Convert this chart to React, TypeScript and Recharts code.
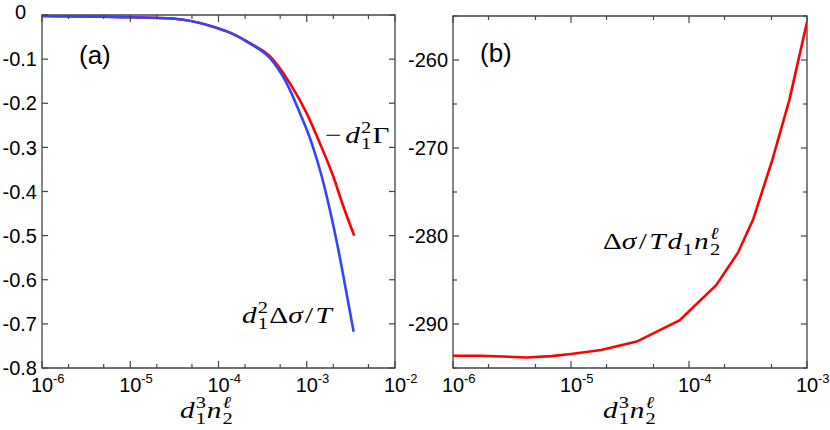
import { LineChart, Line, XAxis, YAxis, ReferenceArea } from "recharts";

// panel (a): -d1^2 Gamma and d1^2 dsigma/T against d1^3 n2
const gammaX = [1e-6, 1e-5, 3e-5, 8.7e-5, 1.35e-4, 2.28e-4, 3.84e-4, 6.45e-4, 1.0e-3, 1.41e-3, 2.0e-3, 2.6e-3, 3.45e-3];
const gammaY = [-0.002, -0.005, -0.008, -0.0265, -0.04, -0.064, -0.094, -0.155, -0.223, -0.291, -0.366, -0.434, -0.5];
const sigmaX = [1e-6, 1e-5, 3e-5, 8.7e-5, 1.35e-4, 2.28e-4, 3.84e-4, 5.93e-4, 8.4e-4, 1.14e-3, 1.48e-3, 1.83e-3, 2.26e-3, 2.78e-3, 3.4e-3];
const sigmaY = [-0.002, -0.005, -0.008, -0.0265, -0.04, -0.065, -0.098, -0.155, -0.223, -0.291, -0.366, -0.442, -0.528, -0.623, -0.718];

// panel (b): dsigma / (T d1 n2)
const ratioX = [1e-6, 1.7e-6, 4.2e-6, 6.8e-6, 1e-5, 1.8e-5, 3.6e-5, 8.3e-5, 1.7e-4, 2.6e-4, 3.5e-4, 5.1e-4, 7.1e-4, 1e-3];
const ratioY = [-293.6, -293.6, -293.8, -293.65, -293.4, -292.95, -292.0, -289.6, -285.6, -281.9, -278.1, -271.3, -264.5, -255.7];

const xTicksA = [1e-6, 2e-6, 5e-6, 1e-5, 2e-5, 5e-5, 1e-4, 2e-4, 5e-4, 1e-3, 2e-3, 5e-3, 1e-2];
const xTicksB = [1e-6, 2e-6, 5e-6, 1e-5, 2e-5, 5e-5, 1e-4, 2e-4, 5e-4, 1e-3];
const yTicksA = [0, -0.1, -0.2, -0.3, -0.4, -0.5, -0.6, -0.7, -0.8];
const yTicksB = [-295, -290, -285, -280, -275, -270, -265, -260, -255];

const zip = (xs: number[], ys: number[]) => xs.map((x, i) => ({ x, y: ys[i] }));
const gammaData = zip(gammaX, gammaY);
const sigmaData = zip(sigmaX, sigmaY);
const ratioData = zip(ratioX, ratioY);

const FRAME = "#444";
const SANS = "'Liberation Sans', Arial, sans-serif";
const SERIF = "'Liberation Serif', 'DejaVu Serif', serif";

const LogTick = (props: any) => {
  const { x, y, payload, plotH } = props;
  const e = Math.log10(payload.value);
  const major = Math.abs(e - Math.round(e)) < 1e-6;
  const len = major ? 7 : 4;
  return (
    <g>
      <line x1={x} x2={x} y1={y} y2={y - len} stroke={FRAME} strokeWidth={1.2} />
      <line x1={x} x2={x} y1={y - plotH} y2={y - plotH + len} stroke={FRAME} strokeWidth={1.2} />
      {major && (
        <text x={x} y={y + 24} fontFamily={SANS} fontSize={20} textAnchor="middle" fill="#000">
          10
        </text>
      )}
      {major && (
        <text x={x + 11} y={y + 15} fontFamily={SANS} fontSize={13} fill="#000">
          {`${Math.round(e)}`}
        </text>
      )}
    </g>
  );
};

const LinTick = (props: any) => {
  const { x, y, payload, plotW, step, digits } = props;
  const v = payload.value;
  const major = Math.abs(v / step - Math.round(v / step)) < 1e-6;
  const len = major ? 6 : 4;
  const zero = v === 0;
  const label = zero ? "0" : v.toFixed(digits);
  return (
    <g>
      <line x1={x} x2={x + len} y1={y} y2={y} stroke={FRAME} strokeWidth={1.2} />
      <line x1={x + plotW} x2={x + plotW - len} y1={y} y2={y} stroke={FRAME} strokeWidth={1.2} />
      {major && (
        <text
          x={zero ? x - 16 : x - 5}
          y={zero ? y - 3 : y}
          dy="0.36em"
          fontFamily={SANS}
          fontSize={20}
          textAnchor="end"
          fill="#000"
        >
          {label}
        </text>
      )}
    </g>
  );
};

type Part = { t: string; i?: boolean; s?: "sup" | "sub"; dx?: number };

// math-style label, stretched sideways a little to get closer to the TeX glyph widths
const MathLabel = ({ x, y, parts }: { x: number; y: number; parts: Part[] }) => {
  const size = 24;
  const small = size * 0.7;
  return (
    <g transform={`translate(${x},${y}) scale(1.22,1)`}>
      <text x={0} y={0} fontFamily={SERIF} fontSize={size} fill="#000">
        {parts.map((p, k) => (
          <tspan
            key={k}
            y={p.s === "sup" ? -size * 0.4 : p.s === "sub" ? size * 0.24 : 0}
            dx={p.dx}
            fontSize={p.s ? small : size}
            fontStyle={p.i ? "italic" : "normal"}
          >
            {p.t}
          </tspan>
        ))}
      </text>
    </g>
  );
};

const xTitle: Part[] = [
  { t: "d", i: true },
  { t: "3", s: "sup", dx: 1 },
  { t: "1", s: "sub", dx: -8.4 },
  { t: "n", i: true, dx: 0.5 },
  { t: "ℓ", i: true, s: "sup", dx: 1 },
  { t: "2", s: "sub", dx: -7 },
];

const gammaLabel: Part[] = [
  { t: "−" },
  { t: "d", i: true, dx: 3 },
  { t: "2", s: "sup", dx: 1 },
  { t: "1", s: "sub", dx: -8.4 },
  { t: "Γ", dx: 1 },
];

const sigmaLabel: Part[] = [
  { t: "d", i: true },
  { t: "2", s: "sup", dx: 1 },
  { t: "1", s: "sub", dx: -8.4 },
  { t: "Δ", dx: 1 },
  { t: "σ", i: true },
  { t: "/", dx: 2 },
  { t: "T", i: true, dx: 2 },
];

const ratioLabel: Part[] = [
  { t: "Δ" },
  { t: "σ", i: true },
  { t: "/", dx: 2 },
  { t: "T", i: true, dx: 2 },
  { t: "d", i: true, dx: 1.5 },
  { t: "1", s: "sub", dx: 0.5 },
  { t: "n", i: true, dx: 1 },
  { t: "ℓ", i: true, s: "sup", dx: 1 },
  { t: "2", s: "sub", dx: -7 },
];

const PLOT_A = 353;
const PLOT_B_W = 354;
const PLOT_B_H = 352;

export default function App() {
  return (
    <div style={{ position: "absolute", left: 0, top: 0, width: 830, height: 430, background: "#fff" }}>
      <div style={{ position: "absolute", left: 0, top: 0 }}>
        <LineChart width={420} height={430} margin={{ top: 15, right: 25, bottom: 0, left: 0 }}>
          <XAxis
            dataKey="x"
            type="number"
            scale="log"
            domain={[1e-6, 1e-2]}
            ticks={xTicksA}
            interval={0}
            allowDataOverflow
            axisLine={false}
            tickLine={false}
            tickSize={0}
            tickMargin={0}
            height={62}
            tick={<LogTick plotH={PLOT_A} />}
          />
          <YAxis
            type="number"
            domain={[-0.8, 0]}
            ticks={yTicksA}
            interval={0}
            allowDataOverflow
            axisLine={false}
            tickLine={false}
            tickSize={0}
            tickMargin={0}
            width={42}
            tick={<LinTick plotW={PLOT_A} step={0.1} digits={1} />}
          />
          <ReferenceArea x1={1e-6} x2={1e-2} y1={-0.8} y2={0} fill="none" stroke={FRAME} strokeWidth={1.3} ifOverflow="visible" />
          <Line data={gammaData} dataKey="y" type="monotone" stroke="#ff0000" strokeWidth={2.6} dot={false} isAnimationActive={false} />
          <Line data={sigmaData} dataKey="y" type="monotone" stroke="#3344ff" strokeWidth={2.6} dot={false} isAnimationActive={false} />
          <text x={79} y={64} fontFamily={SANS} fontSize={26} fill="#000">(a)</text>
          <MathLabel x={325} y={143} parts={gammaLabel} />
          <MathLabel x={242} y={323} parts={sigmaLabel} />
          <MathLabel x={180} y={418} parts={xTitle} />
        </LineChart>
      </div>
      <div style={{ position: "absolute", left: 400, top: 0 }}>
        <LineChart width={430} height={430} margin={{ top: 16, right: 23, bottom: 0, left: 0 }}>
          <XAxis
            dataKey="x"
            type="number"
            scale="log"
            domain={[1e-6, 1e-3]}
            ticks={xTicksB}
            interval={0}
            allowDataOverflow
            axisLine={false}
            tickLine={false}
            tickSize={0}
            tickMargin={0}
            height={62}
            tick={<LogTick plotH={PLOT_B_H} />}
          />
          <YAxis
            type="number"
            domain={[-295, -255]}
            ticks={yTicksB}
            interval={0}
            allowDataOverflow
            axisLine={false}
            tickLine={false}
            tickSize={0}
            tickMargin={0}
            width={53}
            tick={<LinTick plotW={PLOT_B_W} step={10} digits={0} />}
          />
          <ReferenceArea x1={1e-6} x2={1e-3} y1={-295} y2={-255} fill="none" stroke={FRAME} strokeWidth={1.3} ifOverflow="visible" />
          <Line data={ratioData} dataKey="y" type="linear" stroke="#ff0000" strokeWidth={2.6} dot={false} isAnimationActive={false} />
          <text x={80} y={62} fontFamily={SANS} fontSize={26} fill="#000">(b)</text>
          <MathLabel x={203} y={249} parts={ratioLabel} />
          <MathLabel x={203} y={418} parts={xTitle} />
        </LineChart>
      </div>
    </div>
  );
}
